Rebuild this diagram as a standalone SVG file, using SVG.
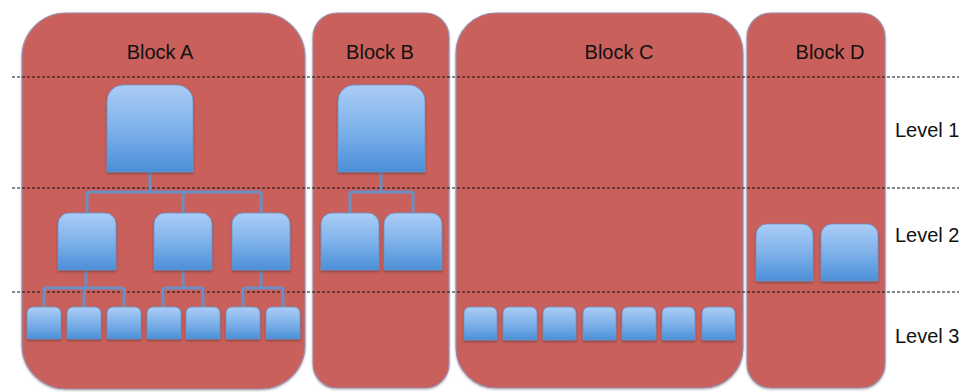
<svg xmlns="http://www.w3.org/2000/svg" width="959" height="392" viewBox="0 0 959 392">
  <defs>
    <linearGradient id="nodeFill" x1="0" y1="0" x2="0" y2="1">
      <stop offset="0" stop-color="#aacdf6"/>
      <stop offset="0.5" stop-color="#7fb2ea"/>
      <stop offset="1" stop-color="#4b8fd8"/>
    </linearGradient>
    <filter id="nodeShadow" x="-20%" y="-20%" width="140%" height="150%">
      <feDropShadow dx="0" dy="1.5" stdDeviation="1" flood-color="#3a2020" flood-opacity="0.45"/>
    </filter>
    <filter id="blockShadow" x="-5%" y="-5%" width="110%" height="110%">
      <feDropShadow dx="0" dy="1" stdDeviation="1.2" flood-color="#000" flood-opacity="0.3"/>
    </filter>
  </defs>
  <style>
    .block { fill: #c9615b; stroke: #9c8aa8; stroke-width: 1.2; filter: url(#blockShadow); }
    .title { font-family: "Liberation Sans", Arial, sans-serif; font-size: 20px; fill: #111; text-anchor: middle; }
    .level { font-family: "Liberation Sans", Arial, sans-serif; font-size: 20px; fill: #111; }
    .guide { stroke: #111; stroke-width: 1; stroke-dasharray: 3 2; fill: none; }
    .node { fill: url(#nodeFill); stroke: #6f93c4; stroke-width: 0.8; filter: url(#nodeShadow); }
    .link { stroke: #6b8fc2; stroke-width: 3; fill: none; }
  </style>

  <rect width="959" height="392" fill="#ffffff"/>

  <!-- blocks -->
  <g id="block-a"><rect class="block" x="22" y="13" width="283" height="376" rx="44" ry="44"/><text class="title" x="160" y="59">Block A</text></g>
  <g id="block-b"><rect class="block" x="313" y="13" width="136" height="375" rx="24" ry="24"/><text class="title" x="380" y="59">Block B</text></g>
  <g id="block-c"><rect class="block" x="456" y="13" width="287" height="375" rx="40" ry="40"/><text class="title" x="619" y="59">Block C</text></g>
  <g id="block-d"><rect class="block" x="747" y="13" width="138" height="375" rx="24" ry="24"/><text class="title" x="830" y="59">Block D</text></g>

  <!-- level guides -->
  <g id="levels">
    <line class="guide" x1="12" y1="77" x2="959" y2="77"/>
    <line class="guide" x1="12" y1="188" x2="959" y2="188"/>
    <line class="guide" x1="12" y1="292" x2="959" y2="292"/>
    <text class="level" x="895" y="137">Level 1</text>
    <text class="level" x="895" y="242">Level 2</text>
    <text class="level" x="895" y="343">Level 3</text>
  </g>

  <!-- connectors -->
  <g id="connectors">
    <path class="link" d="M150 172 V192 M87 192 H261 M87 192 V213 M183 192 V213 M261 192 V213"/>
    <path class="link" d="M86 270 V288 M44 288 H124 M44 288 V307 M84 288 V307 M124 288 V307"/>
    <path class="link" d="M183 270 V288 M163 288 H203 M163 288 V307 M203 288 V307"/>
    <path class="link" d="M261 270 V288 M243 288 H283 M243 288 V307 M283 288 V307"/>
    <path class="link" d="M381 172 V192 M350 192 H413 M350 192 V213 M413 192 V213"/>
  </g>

  <!-- Block A nodes -->
  <g id="a-root"><path class="node" d="M107 172 V101 A16 16 0 0 1 123 85 H177 A16 16 0 0 1 193 101 V172 Z"/></g>
  <g id="a-1"><path class="node" d="M58 270 V224 A11 11 0 0 1 69 213 H105 A11 11 0 0 1 116 224 V270 Z"/></g>
  <g id="a-2"><path class="node" d="M154 270 V224 A11 11 0 0 1 165 213 H201 A11 11 0 0 1 212 224 V270 Z"/></g>
  <g id="a-3"><path class="node" d="M232 270 V224 A11 11 0 0 1 243 213 H279 A11 11 0 0 1 290 224 V270 Z"/></g>
  <g id="a-1-1"><path class="node" d="M27 339 V313 A6 6 0 0 1 33 307 H55 A6 6 0 0 1 61 313 V339 Z"/></g>
  <g id="a-1-2"><path class="node" d="M67 339 V313 A6 6 0 0 1 73 307 H95 A6 6 0 0 1 101 313 V339 Z"/></g>
  <g id="a-1-3"><path class="node" d="M107 339 V313 A6 6 0 0 1 113 307 H135 A6 6 0 0 1 141 313 V339 Z"/></g>
  <g id="a-2-1"><path class="node" d="M147 339 V313 A6 6 0 0 1 153 307 H175 A6 6 0 0 1 181 313 V339 Z"/></g>
  <g id="a-2-2"><path class="node" d="M186 339 V313 A6 6 0 0 1 192 307 H214 A6 6 0 0 1 220 313 V339 Z"/></g>
  <g id="a-3-1"><path class="node" d="M226 339 V313 A6 6 0 0 1 232 307 H254 A6 6 0 0 1 260 313 V339 Z"/></g>
  <g id="a-3-2"><path class="node" d="M266 339 V313 A6 6 0 0 1 272 307 H294 A6 6 0 0 1 300 313 V339 Z"/></g>

  <!-- Block B nodes -->
  <g id="b-root"><path class="node" d="M338 172 V101 A16 16 0 0 1 354 85 H409 A16 16 0 0 1 425 101 V172 Z"/></g>
  <g id="b-1"><path class="node" d="M321 270 V224 A11 11 0 0 1 332 213 H368 A11 11 0 0 1 379 224 V270 Z"/></g>
  <g id="b-2"><path class="node" d="M384 270 V224 A11 11 0 0 1 395 213 H431 A11 11 0 0 1 442 224 V270 Z"/></g>

  <!-- Block C nodes -->
  <g id="c-1"><path class="node" d="M464 340 V313 A6 6 0 0 1 470 307 H491 A6 6 0 0 1 497 313 V340 Z"/></g>
  <g id="c-2"><path class="node" d="M503 340 V313 A6 6 0 0 1 509 307 H531 A6 6 0 0 1 537 313 V340 Z"/></g>
  <g id="c-3"><path class="node" d="M543 340 V313 A6 6 0 0 1 549 307 H570 A6 6 0 0 1 576 313 V340 Z"/></g>
  <g id="c-4"><path class="node" d="M583 340 V313 A6 6 0 0 1 589 307 H610 A6 6 0 0 1 616 313 V340 Z"/></g>
  <g id="c-5"><path class="node" d="M622 340 V313 A6 6 0 0 1 628 307 H650 A6 6 0 0 1 656 313 V340 Z"/></g>
  <g id="c-6"><path class="node" d="M662 340 V313 A6 6 0 0 1 668 307 H689 A6 6 0 0 1 695 313 V340 Z"/></g>
  <g id="c-7"><path class="node" d="M702 340 V313 A6 6 0 0 1 708 307 H729 A6 6 0 0 1 735 313 V340 Z"/></g>

  <!-- Block D nodes -->
  <g id="d-1"><path class="node" d="M756 281 V235 A11 11 0 0 1 767 224 H802 A11 11 0 0 1 813 235 V281 Z"/></g>
  <g id="d-2"><path class="node" d="M821 281 V235 A11 11 0 0 1 832 224 H867 A11 11 0 0 1 878 235 V281 Z"/></g>
</svg>
